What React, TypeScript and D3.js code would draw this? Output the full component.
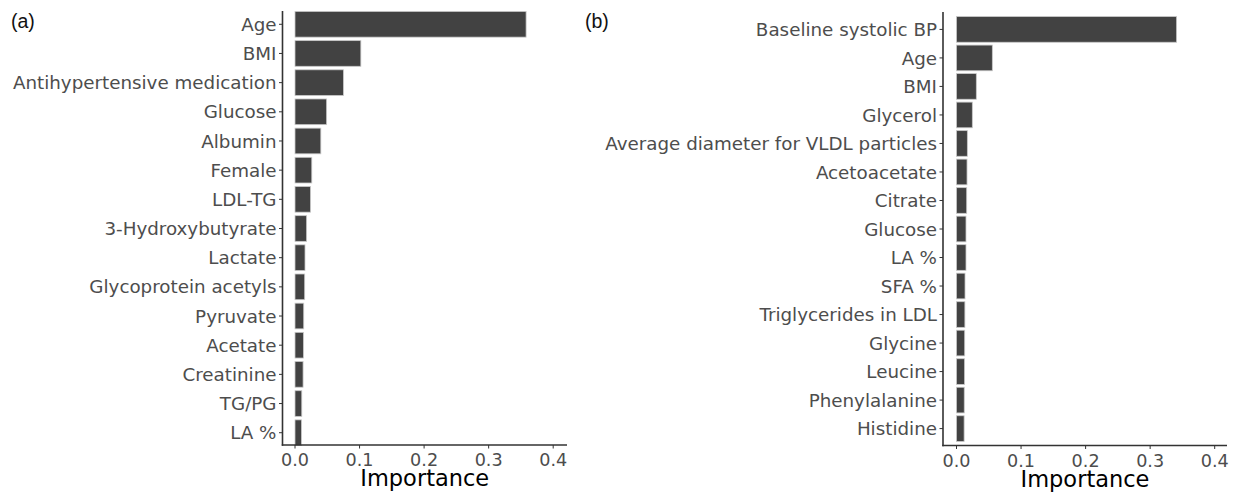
import React from "react";
import * as d3 from "d3";

const featuresA = [
  "Age", "BMI", "Antihypertensive medication", "Glucose", "Albumin", "Female", "LDL-TG",
  "3-Hydroxybutyrate", "Lactate", "Glycoprotein acetyls", "Pyruvate", "Acetate",
  "Creatinine", "TG/PG", "LA %",
];
const importanceA = [0.358, 0.102, 0.075, 0.049, 0.040, 0.026, 0.024, 0.018, 0.0155, 0.015, 0.0135, 0.013, 0.0125, 0.0105, 0.010];

const featuresB = [
  "Baseline systolic BP", "Age", "BMI", "Glycerol", "Average diameter for VLDL particles",
  "Acetoacetate", "Citrate", "Glucose", "LA %", "SFA %", "Triglycerides in LDL", "Glycine",
  "Leucine", "Phenylalanine", "Histidine",
];
const importanceB = [0.341, 0.0555, 0.0307, 0.0245, 0.0168, 0.0163, 0.0158, 0.0147, 0.0147, 0.0132, 0.013, 0.0127, 0.0125, 0.012, 0.0118];

const xTicks = [0, 0.1, 0.2, 0.3, 0.4];
const panelTags = ["(a)", "(b)"];
const xTitle = "Importance";

type PanelProps = {
  names: string[];
  values: number[];
  axisX: number;
  axisRight: number;
  zeroX: number;
  yTop: number;
  yBottom: number;
  bandRange: [number, number];
  padInner: number;
  padOuter: number;
};

const FONT = "'DejaVu Sans', sans-serif";
const AXIS_COLOR = "#333333";
const TEXT_COLOR = "#4d4d4d";

function Panel(p: PanelProps) {
  const pxPerUnit = 645.5;
  const x = d3
    .scaleLinear()
    .domain([(p.axisX - p.zeroX) / pxPerUnit, (p.axisRight - p.zeroX) / pxPerUnit])
    .range([p.axisX, p.axisRight]);
  const y = d3
    .scaleBand<string>()
    .domain(p.names)
    .range(p.bandRange)
    .paddingInner(p.padInner)
    .paddingOuter(p.padOuter);
  return (
    <g>
      {p.names.map((n, i) => (
        <rect
          key={n}
          x={x(0)}
          y={y(n)}
          width={x(p.values[i]) - x(0)}
          height={y.bandwidth()}
          fill="#424242"
          stroke="#c8c8c8"
          strokeWidth={0.8}
        />
      ))}
      <line x1={p.axisX} x2={p.axisX} y1={p.yTop} y2={p.yBottom + 0.75} stroke={AXIS_COLOR} strokeWidth={1.6} />
      <line x1={p.axisX - 0.75} x2={p.axisRight} y1={p.yBottom} y2={p.yBottom} stroke={AXIS_COLOR} strokeWidth={1.6} />
      {p.names.map((n) => {
        const cy = (y(n) as number) + y.bandwidth() / 2;
        return (
          <g key={"t" + n}>
            <line x1={p.axisX - 3.5} x2={p.axisX} y1={cy} y2={cy} stroke={AXIS_COLOR} strokeWidth={1} />
            <text
              x={p.axisX - 6}
              y={cy}
              dy="0.36em"
              textAnchor="end"
              fontFamily={FONT}
              fontSize={18.3}
              fill={TEXT_COLOR}
            >
              {n}
            </text>
          </g>
        );
      })}
      {xTicks.map((t) => (
        <g key={"x" + t}>
          <line x1={x(t)} x2={x(t)} y1={p.yBottom} y2={p.yBottom + 3.5} stroke={AXIS_COLOR} strokeWidth={1} />
          <text
            x={x(t)}
            y={p.yBottom + 21}
            textAnchor="middle"
            fontFamily={FONT}
            fontSize={17.6}
            fill={TEXT_COLOR}
          >
            {t.toFixed(1)}
          </text>
        </g>
      ))}
      <text
        x={(p.axisX + p.axisRight) / 2}
        y={p.yBottom + 41}
        textAnchor="middle"
        fontFamily={FONT}
        fontSize={22.5}
        fill="#000"
      >
        {xTitle}
      </text>
    </g>
  );
}

export default function App() {
  return (
    <svg
      width={1239}
      height={494}
      style={{ position: "absolute", left: 0, top: 0, background: "#fff" }}
    >
      <text x={11} y={28} fontFamily="'Liberation Sans', Arial, sans-serif" fontSize={19.5} fill="#111">
        {panelTags[0]}
      </text>
      <text x={585} y={28} fontFamily="'Liberation Sans', Arial, sans-serif" fontSize={19.5} fill="#111">
        {panelTags[1]}
      </text>
      <Panel
        names={featuresA}
        values={importanceA}
        axisX={282.5}
        axisRight={567}
        zeroX={295}
        yTop={11}
        yBottom={445}
        bandRange={[9.7, 447.3]}
        padInner={0.12}
        padOuter={0.06}
      />
      <Panel
        names={featuresB}
        values={importanceB}
        axisX={943}
        axisRight={1227}
        zeroX={956.5}
        yTop={12}
        yBottom={445.5}
        bandRange={[12.3, 445.7]}
        padInner={0.1}
        padOuter={0.15}
      />
    </svg>
  );
}
